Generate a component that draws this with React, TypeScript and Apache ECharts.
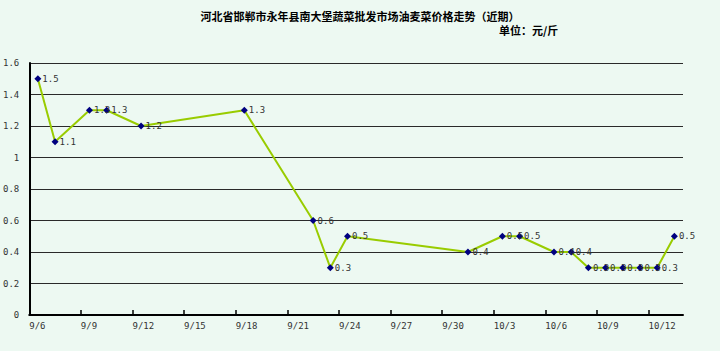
import React, { useEffect, useRef } from "react";
import * as echarts from "echarts";

const titleText = "河北省邯郸市永年县南大堡蔬菜批发市场油麦菜价格走势（近期）";
const unitText = "单位：元/斤";

const startDate = "9/6";
const endDate = "10/14";

const dates = [
  "9/6", "9/7", "9/9", "9/10", "9/12", "9/18", "9/22", "9/23", "9/24",
  "10/1", "10/3", "10/4", "10/6", "10/7", "10/8", "10/9", "10/10", "10/11", "10/12", "10/13",
];
const prices = [
  1.5, 1.1, 1.3, 1.3, 1.2, 1.3, 0.6, 0.3, 0.5,
  0.4, 0.5, 0.5, 0.4, 0.4, 0.3, 0.3, 0.3, 0.3, 0.3, 0.5,
];
const xTickLabels = [
  "9/6", "9/9", "9/12", "9/15", "9/18", "9/21", "9/24", "9/27", "9/30", "10/3", "10/6", "10/9", "10/12",
];

const toDay = (s: string) => {
  const [m, d] = s.split("/").map(Number);
  return Date.UTC(2024, m - 1, d) / 86400000;
};
const base = toDay(startDate);
const offset = (s: string) => toDay(s) - base;
const fmtDay = (v: number) => {
  const dt = new Date((base + Math.round(v)) * 86400000);
  return `${dt.getUTCMonth() + 1}/${dt.getUTCDate()}`;
};

export default function App() {
  const ref = useRef<HTMLDivElement>(null);
  useEffect(() => {
    document.body.style.margin = "0";
    if (!ref.current) return;
    const chart = echarts.init(ref.current, null, { renderer: "svg" });
    const tickValues = xTickLabels.map(offset);
    const mono = "DejaVu Sans Mono";
    chart.setOption({
      animation: false,
      backgroundColor: "#EDF9F2",
      title: [
        {
          text: titleText,
          left: "center",
          top: 5,
          textStyle: { fontSize: 11, fontWeight: "bold", color: "#000", fontFamily: "Noto Sans CJK SC" },
        },
        {
          text: unitText,
          left: 494,
          top: 19,
          textStyle: { fontSize: 11, fontWeight: "bold", color: "#000", fontFamily: "Noto Sans CJK SC" },
        },
      ],
      grid: { left: 24, right: 37, top: 63, bottom: 36, containLabel: false },
      xAxis: {
        type: "value",
        min: 0,
        max: offset(endDate),
        axisLine: { show: true, lineStyle: { color: "#000", width: 2 } },
        axisTick: {
          show: true,
          inside: true,
          length: 5,
          customValues: tickValues,
          lineStyle: { color: "#000", width: 1.5 },
        },
        axisLabel: {
          customValues: tickValues,
          formatter: (v: number) => fmtDay(v),
          align: "left",
          margin: 6,
          fontFamily: mono,
          fontSize: 9,
          color: "#333",
        },
        splitLine: { show: false },
      },
      yAxis: {
        type: "value",
        min: 0,
        max: 1.6,
        interval: 0.2,
        axisLine: { show: true, lineStyle: { color: "#000", width: 2 } },
        axisTick: { show: false },
        axisLabel: { margin: 10, fontFamily: mono, fontSize: 9, color: "#333" },
        splitLine: { show: true, lineStyle: { color: "#2a2a2a", width: 1 } },
      },
      series: [
        {
          type: "line",
          data: dates.map((d, i) => [offset(d) + 0.5, prices[i]]),
          symbol: "diamond",
          symbolSize: 7,
          itemStyle: { color: "#000080" },
          lineStyle: { color: "#99CC00", width: 2 },
          label: {
            show: true,
            position: "right",
            distance: 1,
            fontFamily: mono,
            fontSize: 9,
            color: "#333",
          },
          z: 3,
        },
      ],
    });
    return () => chart.dispose();
  }, []);
  return <div ref={ref} style={{ width: 720, height: 351 }} />;
}
